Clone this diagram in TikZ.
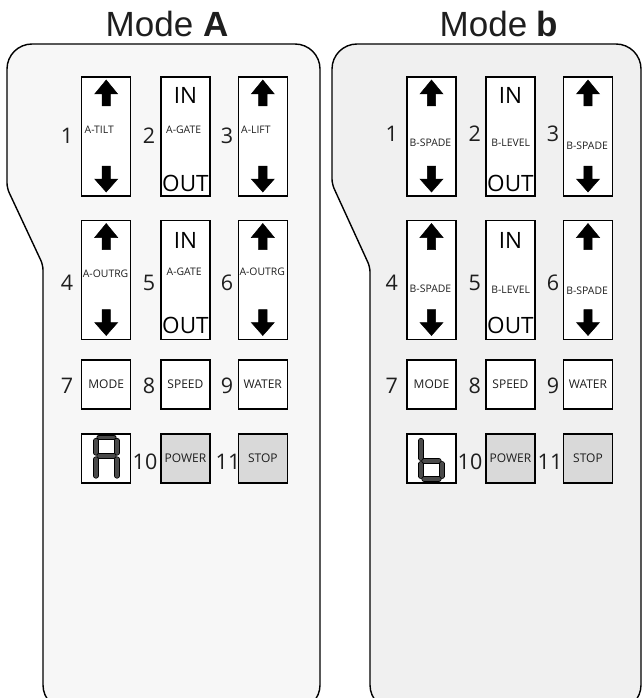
\documentclass[tikz,border=0pt]{standalone}
\usepackage{fontspec}
\setmainfont{Liberation Sans}
\newfontfamily\osans{Open Sans}
\definecolor{panelA}{HTML}{F7F7F7}
\definecolor{panelB}{HTML}{F0F0F0}
\definecolor{btngrey}{HTML}{D9D9D9}
\definecolor{segcol}{HTML}{4A4A4A}
\definecolor{ink}{HTML}{1E1E1E}
\begin{document}
\begin{tikzpicture}[x=1pt,y=-1pt,
  panel/.style={draw=black, line width=1.4pt},
  title/.style={font=\fontsize{35}{35}\selectfont, text=ink, inner sep=0pt, anchor=base},
  btn/.style={draw=black, line width=1.2pt, fill=white, inner sep=0pt,
    minimum width=49pt, minimum height=49pt,
    font=\osans\fontsize{12}{12}\selectfont, text=ink},
  tallbtn/.style={btn, minimum height=119pt},
  greybtn/.style={btn, fill=btngrey},
  num/.style={font=\osans\fontsize{21.5}{21.5}\selectfont, text=ink, inner sep=0pt},
  lbl/.style={font=\osans\fontsize{10.4}{10.4}\selectfont, text=ink, anchor=west, inner sep=0pt},
  io/.style={font=\osans\fontsize{22.5}{22.5}\selectfont, text=black, anchor=base, inner sep=0pt},
  seg/.style={double=segcol, double distance=3.6pt, line width=0.8pt, draw=black, line cap=round},
  uparr/.pic={\filldraw[black, line width=0.5pt] (0,0) -- (11.5,14) -- (4.2,14) -- (4.2,26) -- (-4.2,26) -- (-4.2,14) -- (-11.5,14) -- cycle;},
  dnarr/.pic={\filldraw[black, line width=0.5pt] (0,26) -- (11.5,13) -- (4.2,13) -- (4.2,0) -- (-4.2,0) -- (-4.2,13) -- (-11.5,13) -- cycle;}
]
\useasboundingbox (0,0) rectangle (643,698);
\begin{scope}
\clip (0,0) rectangle (643,698);
\filldraw[panel, fill=panelA] (43,400) [rounded corners=5] -- (43,265) -- (7,188) -- (7,120) [rounded corners=25] -- (7,44) -- (320,44) -- (320,710) -- (43,710) -- cycle;
\filldraw[panel, fill=panelB] (370,400) [rounded corners=5] -- (370,267) -- (332,184) -- (332,120) [rounded corners=25] -- (332,44) -- (641,44) -- (641,710) -- (370,710) -- cycle;
\end{scope}

% titles
\node[title] (tA) at (167,37) {Mode \textbf{A}};
\node[title] (tB) at (499,37) {Mode \textbf{b}};

% ---------- Mode A ----------
% row 1
\node[tallbtn] (a1) at (106.2,136.5) {};
\node[tallbtn] (a2) at (185.4,136.5) {};
\node[tallbtn] (a3) at (262.8,136.5) {};
\pic at (106.2,80) {uparr}; \pic at (106.2,166) {dnarr};
\pic at (262.8,80) {uparr}; \pic at (262.8,166) {dnarr};
\node[io] (a2in) at (185.4,103) {IN};
\node[io] (a2out) at (185.4,191) {OUT};
\node[lbl] (a1l) at (84.5,130) {A-TILT};
\node[lbl] (a2l) at (166,130) {A-GATE};
\node[lbl] (a3l) at (241,130) {A-LIFT};
\node[num] (n1) at (67,136) {1};
\node[num] (n2) at (149,136) {2};
\node[num] (n3) at (227,136) {3};
% row 2
\node[tallbtn] (a4) at (106.2,280) {};
\node[tallbtn] (a5) at (185.4,280) {};
\node[tallbtn] (a6) at (262.8,280) {};
\pic at (106.2,223.5) {uparr}; \pic at (106.2,309.5) {dnarr};
\pic at (262.8,223.5) {uparr}; \pic at (262.8,309.5) {dnarr};
\node[io] (a5in) at (185.4,248) {IN};
\node[io] (a5out) at (185.4,333.5) {OUT};
\node[lbl] (a4l) at (82.7,273.5) {A-OUTRG};
\node[lbl] (a5l) at (166.5,272) {A-GATE};
\node[lbl] (a6l) at (239.3,272) {A-OUTRG};
\node[num] (n4) at (67,283) {4};
\node[num] (n5) at (149,283) {5};
\node[num] (n6) at (227,283) {6};
% row 3
\node[btn] (a7) at (106.2,384.5) {MODE};
\node[btn] (a8) at (185.4,384.5) {SPEED};
\node[btn] (a9) at (262.8,384.5) {WATER};
\node[num] (n7) at (67,386) {7};
\node[num] (n8) at (149,386) {8};
\node[num] (n9) at (227,386) {9};
% row 4
\node[btn] (adisp) at (106.2,458.5) {};
\node[greybtn] (a10) at (185.4,458.5) {POWER};
\node[greybtn] (a11) at (262.8,458.5) {STOP};
\node[num] (n10) at (145,462) {10};
\node[num] (n11) at (228,462) {11};
% seven-segment A
\draw[seg] (99,437.5) -- (114,437.5);
\draw[seg] (96,440.5) -- (96,453);
\draw[seg] (117,440.5) -- (117,453);
\draw[seg] (99,456) -- (114,456);
\draw[seg] (96,459) -- (96,476);
\draw[seg] (117,459) -- (117,476);

% ---------- Mode b ----------
% row 1
\node[tallbtn] (b1) at (431.5,136.5) {};
\node[tallbtn] (b2) at (510.4,136.5) {};
\node[tallbtn] (b3) at (588,136.5) {};
\pic at (431.5,80) {uparr}; \pic at (431.5,166) {dnarr};
\pic at (588,80) {uparr}; \pic at (588,166) {dnarr};
\node[io] (b2in) at (510.4,103) {IN};
\node[io] (b2out) at (510.4,191) {OUT};
\node[lbl] (b1l) at (409.5,143) {B-SPADE};
\node[lbl] (b2l) at (491.2,143) {B-LEVEL};
\node[lbl] (b3l) at (566.2,146) {B-SPADE};
\node[num] (m1) at (391.7,134) {1};
\node[num] (m2) at (474.7,134) {2};
\node[num] (m3) at (553,134) {3};
% row 2
\node[tallbtn] (b4) at (431.5,280) {};
\node[tallbtn] (b5) at (510.4,280) {};
\node[tallbtn] (b6) at (588,280) {};
\pic at (431.5,223.5) {uparr}; \pic at (431.5,309.5) {dnarr};
\pic at (588,223.5) {uparr}; \pic at (588,309.5) {dnarr};
\node[io] (b5in) at (510.4,248) {IN};
\node[io] (b5out) at (510.4,333.5) {OUT};
\node[lbl] (b4l) at (409.5,289) {B-SPADE};
\node[lbl] (b5l) at (491.2,290) {B-LEVEL};
\node[lbl] (b6l) at (566.2,291) {B-SPADE};
\node[num] (m4) at (391.7,283) {4};
\node[num] (m5) at (474.7,283) {5};
\node[num] (m6) at (553,283) {6};
% row 3
\node[btn] (b7) at (431.5,384.5) {MODE};
\node[btn] (b8) at (510.4,384.5) {SPEED};
\node[btn] (b9) at (588,384.5) {WATER};
\node[num] (m7) at (391.7,386) {7};
\node[num] (m8) at (474.7,386) {8};
\node[num] (m9) at (553,386) {9};
% row 4
\node[btn] (bdisp) at (431.5,458.5) {};
\node[greybtn] (b10) at (510.4,458.5) {POWER};
\node[greybtn] (b11) at (588,458.5) {STOP};
\node[num] (m10) at (470,462) {10};
\node[num] (m11) at (550,462) {11};
% seven-segment b
\draw[seg] (421,440.5) -- (421,458.3);
\draw[seg] (421,463.7) -- (421,476.3);
\draw[seg] (424,461) -- (439,461);
\draw[seg] (442,463.7) -- (442,476.3);
\draw[seg] (424,479) -- (439,479);
\end{tikzpicture}
\end{document}
